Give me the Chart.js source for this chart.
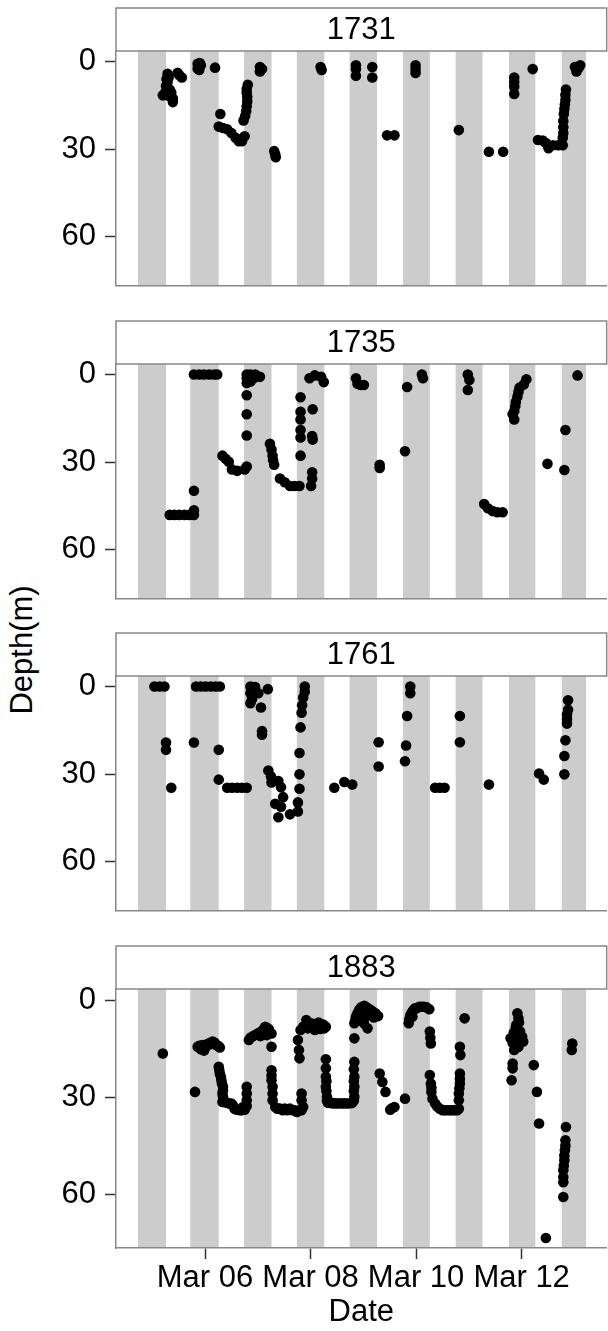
<!DOCTYPE html>
<html>
<head>
<meta charset="utf-8">
<title>Dive depth by tag</title>
<script src="https://cdn.jsdelivr.net/npm/chart.js@4.4.1/dist/chart.umd.min.js"></script>
<style>
  html, body { margin: 0; padding: 0; background: #fff; overflow: hidden; }
  #wrap { position: relative; width: 608px; height: 1331px; overflow: hidden; }
  #wrap canvas { position: absolute; left: 0; }
  #ylab {
    position: absolute; left: 22px; top: 650px;
    transform: translate(-50%, -50%) rotate(-90deg);
    white-space: nowrap; color: #000;
    font: 31px "Liberation Sans", Arial, sans-serif;
  }
</style>
</head>
<body>
<div id="wrap">
  <div id="ylab">Depth(m)</div>
</div>
<script>
// time is day of March (decimal), depth in metres
const tags = ["1731", "1735", "1761", "1883"];

const dives1731 = [
  [5.29,4.2],[5.31,5.5],[5.29,7.0],[5.26,8.4],[5.33,9.6],[5.36,10.6],[5.20,11.6],[5.29,11.6],[5.39,12.7],[5.39,13.9],
  [5.27,6.0],[5.31,10.0],[5.34,12.0],[5.25,10.5],
  [5.51,4.6],[5.56,5.5],[5.48,3.9],
  [5.86,0.8],[5.89,1.9],[5.89,2.9],[5.92,1.3],[5.86,2.4],[5.90,0.5],
  [6.19,2.1],[6.29,18.0],
  [6.26,22.3],[6.34,22.8],[6.42,23.2],[6.50,24.5],[6.58,26.1],[6.64,27.3],[6.70,27.3],[6.75,25.6],
  [6.81,8.0],[6.79,10.6],[6.80,12.2],[6.80,13.7],[6.79,15.3],[6.78,17.0],[6.76,18.7],[6.73,20.2],[6.79,9.4],
  [7.04,1.9],[7.08,2.6],[7.04,3.4],
  [7.31,30.7],[7.33,31.8],[7.34,32.8],
  [8.19,1.9],[8.21,2.9],
  [8.86,1.3],[8.86,2.6],[8.86,4.9],[9.17,1.9],[9.17,5.5],
  [9.45,25.3],[9.59,25.3],
  [9.99,1.3],[9.99,2.6],[9.99,3.9],
  [10.81,23.5],[11.38,30.9],[11.65,30.9],
  [11.86,5.5],[11.86,7.0],[11.86,8.6],[11.86,11.1],
  [12.21,2.6],
  [12.31,26.9],[12.40,27.1],[12.46,27.9],[12.51,29.7],[12.59,28.7],[12.69,28.7],[12.78,28.7],
  [12.84,9.6],[12.83,11.4],[12.83,13.2],[12.82,14.7],[12.81,16.3],[12.80,18.0],[12.79,20.4],[12.79,22.5],[12.79,24.5],[12.78,26.1],
  [13.01,1.9],[13.08,2.2],[13.04,3.4],[13.11,1.3]
];

const dives1735 = [
  [5.33,48.1],[5.42,48.1],[5.51,48.1],[5.61,48.1],[5.70,48.1],[5.79,48.1],[5.79,46.5],[5.79,39.8],
  [5.79,0],[5.89,0],[5.98,0],[6.08,0],[6.17,0],[6.23,0],
  [6.33,27.8],[6.39,28.9],[6.45,29.9],[6.51,32.5],[6.61,33.0],[6.75,32.5],
  [6.79,0],[6.79,1.3],[6.79,2.9],[6.79,7.1],[6.79,13.6],[6.79,20.9],[6.79,31.5],
  [6.86,0],[6.92,1.3],[6.95,0],[7.04,0.8],[6.86,2.4],
  [7.23,23.7],[7.26,25.7],[7.28,27.8],[7.29,29.4],[7.31,30.9],
  [7.42,35.6],[7.51,36.9],[7.61,38.2],[7.70,38.2],[7.79,38.2],
  [7.81,7.8],[7.81,12.8],[7.81,15.4],[7.81,19.0],[7.81,21.6],[7.81,27.8],
  [8.04,11.9],[8.03,21.1],[8.04,22.3],[8.03,33.5],[8.03,35.6],[8.01,38.2],
  [7.98,1.3],[8.08,0.3],[8.20,0.8],[8.25,2.6],
  [8.86,1.3],[8.89,3.2],[8.95,3.6],[9.01,3.6],
  [9.31,30.9],[9.31,32.0],
  [9.79,26.3],[9.83,4.3],
  [10.11,0],[10.13,1.3],
  [10.98,0],[11.01,1.9],[10.98,5.3],
  [11.29,44.4],[11.36,45.8],[11.45,46.8],[11.54,47.2],[11.64,47.2],
  [12.09,1.6],[12.04,3.4],[11.96,4.5],[11.94,6.0],[11.92,7.6],[11.89,9.4],[11.88,10.9],[11.86,12.6],[11.83,13.6],[11.86,15.4],
  [12.49,30.6],[12.83,19.0],[12.81,32.7],[13.06,0.3]
];

const dives1761 = [
  [5.04,0],[5.14,0],[5.23,0],[5.26,19.2],[5.26,21.7],[5.36,34.7],[5.79,19.2],
  [5.83,0],[5.92,0],[6.01,0],[6.11,0],[6.20,0],[6.28,0],
  [6.26,21.7],[6.26,31.9],
  [6.42,34.7],[6.51,34.7],[6.61,34.7],[6.70,34.7],[6.79,34.7],
  [6.86,0],[6.95,0.2],[6.86,2.3],[6.89,4.4],[6.86,5.7],[7.06,7.2],[7.19,0.9],[7.01,2.3],
  [7.08,15.3],[7.08,16.5],
  [7.20,28.8],[7.25,30.8],[7.26,32.9],[7.39,32.4],[7.44,34.5],[7.48,37.9],[7.33,40.2],[7.44,41.2],
  [7.39,44.8],[7.61,43.8],[7.76,42.8],[7.76,39.7],[7.79,35.0],
  [7.89,0],[7.89,1.8],[7.86,3.8],[7.84,6.4],[7.83,9.0],[7.81,14.0],[7.79,22.8],[7.79,30.1],
  [8.45,34.7],[8.64,32.7],[8.79,33.6],
  [9.29,19.1],[9.29,27.4],
  [9.83,10.1],[9.81,20.2],[9.79,25.6],[9.89,0],[9.89,2.3],
  [10.36,34.7],[10.45,34.7],[10.54,34.7],
  [10.83,10.1],[10.83,19.1],
  [11.38,33.6],
  [12.33,29.8],[12.42,31.9],
  [12.88,4.7],[12.88,8.0],[12.86,9.6],[12.86,11.1],[12.86,12.7],[12.83,18.4],[12.81,23.8],[12.81,30.1]
];

const dives1883 = [
  [5.20,16.4],[5.81,28.3],
  [5.86,14.3],[5.89,14.0],[5.92,15.1],[5.95,13.8],[5.98,15.5],[6.00,14.8],[6.03,14.0],[6.06,13.3],[6.10,13.5],
  [6.14,12.7],[6.18,13.0],[6.21,13.8],[6.25,14.0],[6.28,14.5],
  [6.26,20.5],[6.27,21.5],[6.28,22.6],[6.30,23.6],[6.31,24.7],[6.32,25.7],[6.34,26.7],[6.34,27.8],[6.33,28.8],[6.34,29.8],[6.36,31.0],
  [6.33,31.4],[6.38,31.5],[6.42,31.7],[6.46,31.9],[6.50,31.9],[6.53,32.5],[6.56,33.5],[6.60,33.8],[6.66,34.0],[6.70,34.0],[6.75,33.8],[6.72,33.0],
  [6.79,26.7],[6.79,28.8],[6.79,30.9],[6.79,32.7],
  [6.83,12.2],[6.86,11.5],[6.89,11.2],[6.93,10.8],[6.98,10.4],[7.02,10.0],[7.05,11.0],[7.08,9.6],[7.10,9.0],[7.14,8.1],
  [7.11,10.5],[7.17,10.7],[7.18,8.5],[7.21,8.9],[7.22,9.5],[7.26,10.2],[7.26,14.3],
  [7.26,21.6],[7.26,23.2],[7.26,24.7],[7.28,26.7],[7.28,28.8],[7.28,30.9],
  [7.33,33.0],[7.37,33.5],[7.42,33.5],[7.47,34.0],[7.51,33.5],[7.56,34.0],[7.61,33.5],[7.66,34.0],[7.70,34.0],[7.74,34.5],
  [7.79,34.0],[7.83,34.0],[7.86,33.0],
  [7.83,28.8],[7.83,30.9],
  [7.76,12.2],[7.78,15.3],[7.79,17.9],[7.81,9.1],[7.86,8.1],
  [7.92,6.0],[7.95,8.6],[7.97,7.5],[8.01,7.0],[8.04,7.8],[8.08,9.1],[8.11,8.1],[8.13,7.2],[8.15,6.8],[8.18,8.8],
  [8.20,7.6],[8.24,7.4],[8.26,8.6],[8.29,8.1],
  [8.29,18.2],[8.29,21.0],[8.29,23.6],[8.30,25.0],[8.29,26.7],[8.30,28.0],[8.31,29.8],[8.31,31.0],
  [8.33,31.7],[8.38,31.5],[8.42,31.9],[8.47,31.8],[8.51,31.9],[8.56,31.8],[8.61,31.9],[8.65,31.8],[8.70,31.9],[8.75,31.8],[8.79,31.7],
  [8.83,19.0],[8.82,21.3],[8.83,23.6],[8.82,25.0],[8.83,26.7],[8.82,28.0],[8.83,29.8],[8.82,31.0],[8.83,11.7],
  [8.83,7.0],[8.85,6.0],[8.86,5.0],[8.89,3.9],[8.92,2.9],[8.95,2.2],[8.98,1.9],[9.02,1.6],[9.06,2.1],[9.10,2.5],
  [9.14,2.9],[9.18,3.4],[9.23,3.9],[9.28,4.8],[9.08,8.6],[9.01,7.0],[9.20,5.2],[8.95,6.0],[9.04,5.0],
  [9.31,22.6],[9.36,25.2],[9.42,28.3],
  [9.51,33.8],[9.55,33.3],[9.59,33.0],[9.79,30.4],
  [9.86,7.0],[9.87,5.8],[9.89,4.5],[9.92,3.6],[9.95,2.9],[9.98,2.4],[10.01,2.4],[10.06,1.9],[10.11,1.9],[10.15,1.9],
  [10.20,2.1],[10.25,2.7],[9.93,5.0],
  [10.26,9.6],[10.27,11.5],[10.28,13.3],[10.26,23.1],[10.28,25.7],[10.29,27.0],[10.29,28.3],[10.31,30.4],
  [10.36,31.9],[10.40,32.8],[10.45,33.5],[10.50,34.0],[10.54,34.0],[10.59,34.0],[10.64,34.0],[10.69,34.0],[10.73,34.0],
  [10.78,34.0],[10.81,33.5],
  [10.83,14.3],[10.84,16.9],[10.83,22.6],[10.83,24.2],[10.83,25.7],[10.82,27.2],[10.81,28.8],[10.81,30.9],
  [10.92,5.5],
  [11.92,3.9],[11.94,5.5],[11.95,6.8],[11.90,7.5],[11.89,8.3],[11.97,9.6],[11.93,10.5],[12.01,11.2],[11.83,13.1],
  [11.94,14.3],[11.86,15.3],[12.03,12.7],[11.79,11.7],[11.88,12.0],[11.98,13.0],[11.91,14.5],[11.85,10.0],
  [11.83,19.5],[11.83,21.0],[11.81,24.7],
  [12.23,20.0],[12.29,28.3],[12.33,38.1],[12.46,73.6],
  [12.84,39.2],[12.83,43.3],[12.83,44.9],[12.82,46.4],[12.81,48.0],[12.81,49.5],[12.80,51.1],[12.79,52.6],[12.79,54.7],
  [12.79,56.3],[12.79,60.9],
  [12.96,13.3],[12.95,15.3]
];

const divesByTag = [dives1731, dives1735, dives1761, dives1883];

// night periods (shaded)
const nightStart = [4.73, 5.72, 6.74, 7.74, 8.74, 9.75, 10.75, 11.76, 12.76];
const nightEnd   = [5.26, 6.26, 7.26, 8.26, 9.26, 10.26, 11.26, 12.26, 13.22];

const xTicks = [6, 8, 10, 12];
const xTickLabels = ["Mar 06", "Mar 08", "Mar 10", "Mar 12"];
const yTicks = [0, 30, 60];

const X_MIN = 4.3125, X_MAX = 13.6125;
const Y_MIN = -3.6, Y_MAX = 76.7;

const FONT = '"Liberation Sans", Arial, sans-serif';
const FONT_SIZE = 31;
Chart.defaults.font.family = FONT;
Chart.defaults.color = "#000";

// grey night bands + the strip header with the tag number
const panelDecor = {
  id: "panelDecor",
  beforeDraw(chart, args, opts) {
    const { ctx, chartArea: a, scales: { x } } = chart;
    ctx.save();
    ctx.fillStyle = "#cccccc";
    nightStart.forEach((s, i) => {
      const x0 = Math.max(x.getPixelForValue(s), a.left);
      const x1 = Math.min(x.getPixelForValue(nightEnd[i]), a.right);
      if (x1 > x0) ctx.fillRect(x0, a.top, x1 - x0, a.bottom - a.top);
    });
    const top = 8;
    ctx.fillStyle = "#fff";
    ctx.fillRect(a.left, top, a.right - a.left, a.top - top);
    ctx.strokeStyle = "#888";
    ctx.lineWidth = 1.5;
    ctx.strokeRect(a.left, top, a.right - a.left, a.top - top);
    ctx.fillStyle = "#000";
    ctx.font = FONT_SIZE + "px " + FONT;
    ctx.textAlign = "center";
    ctx.textBaseline = "middle";
    ctx.fillText(opts.label, (a.left + a.right) / 2, (a.top + top) / 2 + 1);
    ctx.restore();
  }
};

const wrap = document.getElementById("wrap");
const tops = [0, 313, 625, 938];

tags.forEach((tag, i) => {
  const last = i === tags.length - 1;
  const canvas = document.createElement("canvas");
  canvas.width = 612;
  canvas.height = last ? 393 : 313;
  canvas.style.top = tops[i] + "px";
  wrap.appendChild(canvas);

  new Chart(canvas, {
    type: "scatter",
    data: {
      datasets: [{
        data: divesByTag[i].map(p => ({ x: p[0], y: p[1] })),
        backgroundColor: "#000",
        borderColor: "#000",
        borderWidth: 0,
        pointRadius: 5.3,
        pointHoverRadius: 5.3
      }]
    },
    options: {
      responsive: false,
      animation: false,
      devicePixelRatio: 1,
      events: [],
      layout: { padding: { top: 51, right: 0, bottom: 0, left: 0 } },
      plugins: {
        legend: { display: false },
        tooltip: { enabled: false },
        panelDecor: { label: tag }
      },
      scales: {
        x: {
          type: "linear",
          min: X_MIN,
          max: X_MAX,
          afterFit(s) { s.height = last ? 83 : 3; },
          afterBuildTicks(s) { s.ticks = xTicks.map(v => ({ value: v })); },
          grid: { drawOnChartArea: false, drawTicks: last, tickLength: 11, tickColor: "#333", tickWidth: 1.5 },
          border: { display: true, color: "#888", width: 1.5 },
          ticks: {
            display: last,
            padding: 1,
            maxRotation: 0,
            autoSkip: false,
            font: { size: FONT_SIZE },
            color: "#000",
            callback: v => xTickLabels[xTicks.indexOf(v)]
          },
          title: {
            display: last,
            text: "Date",
            font: { size: FONT_SIZE },
            color: "#000",
            padding: { top: 0, bottom: 0 }
          }
        },
        y: {
          reverse: true,
          min: Y_MIN,
          max: Y_MAX,
          afterFit(s) { s.width = 116; },
          afterBuildTicks(s) { s.ticks = yTicks.map(v => ({ value: v })); },
          grid: { drawOnChartArea: false, drawTicks: true, tickLength: 11, tickColor: "#333", tickWidth: 1.5 },
          border: { display: true, color: "#888", width: 1.5 },
          ticks: { padding: 9, font: { size: FONT_SIZE }, color: "#000" }
        }
      }
    },
    plugins: [panelDecor]
  });
});
</script>
</body>
</html>
